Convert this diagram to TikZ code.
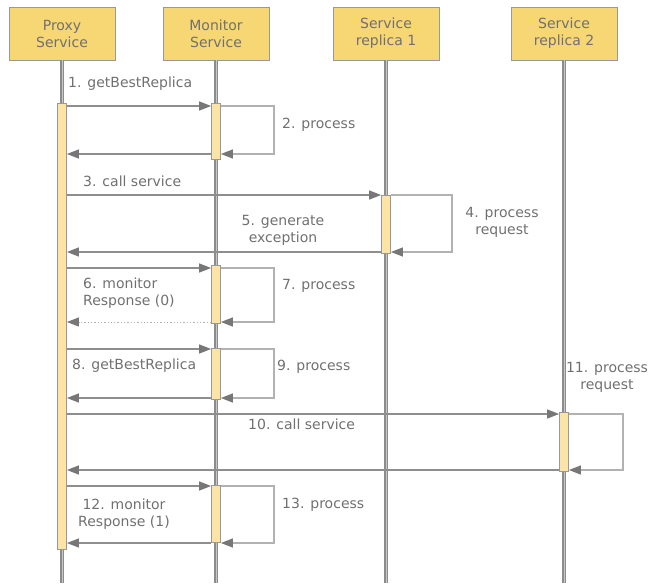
\documentclass[tikz,border=0pt]{standalone}
\usepackage{fontspec}
\newfontfamily\seqfont{DejaVu Sans}
\usetikzlibrary{arrows.meta}
\definecolor{headfill}{HTML}{F7D674}
\definecolor{barfill}{HTML}{FCE4A6}
\definecolor{linegray}{HTML}{8E8E8E}
\definecolor{loopgray}{HTML}{B2B2B2}
\definecolor{tipgray}{HTML}{777777}
\definecolor{textgray}{HTML}{707070}
\begin{document}
\begin{tikzpicture}[x=1pt, y=-1pt,
	font=\seqfont\fontsize{14}{17}\selectfont, text=textgray,
	head/.style={draw=gray!80, fill=headfill, minimum width=106pt, minimum height=53pt, align=center, inner sep=0pt},
	life/.style={draw=black!45, double=black!22, double distance=1pt, line width=1.1pt},
	bar/.style={draw=gray!80, fill=barfill, minimum width=9pt, inner sep=0pt, line width=0.8pt},
	msg/.style={draw=linegray, line width=1.3pt, -{Triangle[length=12pt,width=9pt,color=tipgray]}},
	selfcall/.style={msg, draw=loopgray},
	lbl/.style={inner sep=0pt, align=left, anchor=west}]
	\useasboundingbox (0,0) rectangle (652,583);
	% headers and lifelines
	\node [head] (proxy) at (62,33.5) {Proxy\\Service};
	\node [head] (monitor) at (216,33.5) {Monitor\\Service};
	\node [head] (rep1) at (386,33.5) {Service\\replica 1};
	\node [head] (rep2) at (564,33.5) {Service\\replica 2};
	\draw [life] (proxy.south) -- (proxy.south |- 0,583);
	\draw [life] (monitor.south) -- (monitor.south |- 0,583);
	\draw [life] (rep1.south) -- (rep1.south |- 0,583);
	\draw [life] (rep2.south) -- (rep2.south |- 0,583);
	% activations
	\node [bar, minimum height=446pt] (pb) at (62,326) {};
	\node [bar, minimum height=56pt] (mb1) at (216,131) {};
	\node [bar, minimum height=58pt] (rb1) at (386,224) {};
	\node [bar, minimum height=58pt] (mb2) at (216,294) {};
	\node [bar, minimum height=51pt] (mb3) at (216,373.5) {};
	\node [bar, minimum height=59pt] (rb2) at (564,441.5) {};
	\node [bar, minimum height=57pt] (mb4) at (216,513.5) {};
	% 1-2
	\draw [msg] (pb.east |- 0,106) -- (mb1.west |- 0,106);
	\draw [selfcall] (mb1.east |- 0,106) -- ++(53,0) |- (mb1.east |- 0,154);
	\draw [msg] (mb1.west |- 0,154) -- (pb.east |- 0,154);
	% 3-5
	\draw [msg] (pb.east |- 0,195) -- (rb1.west |- 0,195);
	\draw [selfcall] (rb1.east |- 0,195) -- ++(61,0) |- (rb1.east |- 0,252);
	\draw [msg] (rb1.west |- 0,252) -- (pb.east |- 0,252);
	% 6-7
	\draw [msg] (pb.east |- 0,268) -- (mb2.west |- 0,268);
	\draw [selfcall] (mb2.east |- 0,268) -- ++(53,0) |- (mb2.east |- 0,322);
	\draw [msg, dotted, draw=loopgray, line width=1pt] (mb2.west |- 0,322) -- (pb.east |- 0,322);
	% 8-9
	\draw [msg] (pb.east |- 0,349) -- (mb3.west |- 0,349);
	\draw [selfcall] (mb3.east |- 0,349) -- ++(53,0) |- (mb3.east |- 0,398);
	\draw [msg] (mb3.west |- 0,398) -- (pb.east |- 0,398);
	% 10-11
	\draw [msg] (pb.east |- 0,414) -- (rb2.west |- 0,414);
	\draw [selfcall] (rb2.east |- 0,414) -- ++(54,0) |- (rb2.east |- 0,470);
	\draw [msg] (rb2.west |- 0,470) -- (pb.east |- 0,470);
	% 12-13
	\draw [msg] (pb.east |- 0,486) -- (mb4.west |- 0,486);
	\draw [selfcall] (mb4.east |- 0,486) -- ++(53,0) |- (mb4.east |- 0,543);
	\draw [msg] (mb4.west |- 0,543) -- (pb.east |- 0,543);
	% labels
	\node [lbl] (t1) at (68,84) {1. getBestReplica};
	\node [lbl] (t2) at (282,125) {2. process};
	\node [lbl] (t3) at (83,181) {3. call service};
	\node [lbl, anchor=center, align=center] (t4) at (502,222.5) {4. process\\request};
	\node [lbl, anchor=center, align=center] (t5) at (283,230.5) {5. generate\\exception};
	\node [lbl] (t6) at (83,293) {6. monitor\\Response (0)};
	\node [lbl] (t7) at (282,286) {7. process};
	\node [lbl] (t8) at (72,366) {8. getBestReplica};
	\node [lbl] (t9) at (277,367) {9. process};
	\node [lbl] (t10) at (248,424) {10. call service};
	\node [lbl, anchor=center, align=center] (t11) at (607,377) {11. process\\request};
	\node [lbl, anchor=center, align=center] (t12) at (124,514) {12. monitor\\Response (1)};
	\node [lbl] (t13) at (282,505) {13. process};
\end{tikzpicture}
\end{document}
